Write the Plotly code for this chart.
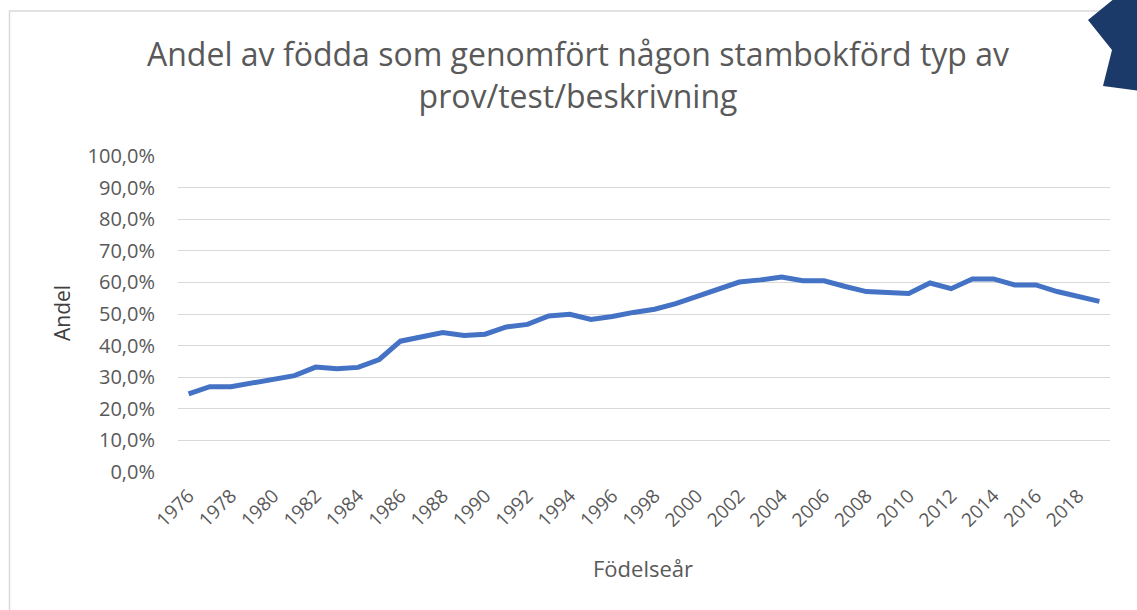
import plotly.graph_objects as go

years = list(range(1976, 2020))
andel = [0.247, 0.270, 0.270, 0.281, 0.294, 0.305, 0.332, 0.327, 0.331, 0.356,
         0.414, 0.428, 0.441, 0.432, 0.436, 0.459, 0.467, 0.494, 0.499, 0.483,
         0.492, 0.505, 0.515, 0.533, 0.557, 0.580, 0.601, 0.608, 0.617, 0.605,
         0.605, 0.587, 0.571, 0.568, 0.565, 0.598, 0.580, 0.611, 0.611, 0.592,
         0.592, 0.571, 0.555, 0.540]
x_tick_vals = list(range(1976, 2019, 2))
y_tick_vals = [i / 10 for i in range(11)]

title_text = "Andel av födda som genomfört någon stambokförd typ av<br>prov/test/beskrivning"
x_title = "Födelseår"
y_title = "Andel"

W, H = 1137, 610
L, R, T, B = 178, 27, 156, 138
PW, PH = W - L - R, H - T - B

def px(x):
    return (x - L) / PW

def py(y):
    return (H - B - y) / PH

FONT = "Open Sans"
GREY = "#595959"

fig = go.Figure()
fig.add_trace(go.Scatter(
    x=years, y=andel, mode="lines",
    line=dict(color="#4472C4", width=5, shape="linear"),
    hoverinfo="skip", showlegend=False,
))

star = [(1115, -2), (1088, 20), (1112, 50), (1103, 86), (1140, 91), (1140, -2)]
path = "M " + " L ".join(f"{px(a):.5f},{py(b):.5f}" for a, b in star) + " Z"

fig.update_layout(
    width=W, height=H,
    margin=dict(l=L, r=R, t=T, b=B, autoexpand=False),
    paper_bgcolor="white", plot_bgcolor="white",
    separators=", ",
    font=dict(family=FONT, color=GREY),
    title=dict(text=title_text, x=px(578), xref="paper", xanchor="center",
               y=1 - 66 / H, yref="container", yanchor="middle",
               font=dict(size=32, color=GREY, family=FONT)),
    xaxis=dict(
        range=[1975.5, 2019.5], tickvals=x_tick_vals, ticktext=[str(v) for v in x_tick_vals],
        tickangle=-45, showgrid=False, zeroline=False, showline=False,
        ticks="", ticklabelstandoff=8,
        tickfont=dict(size=19, color=GREY, family=FONT),
    ),
    yaxis=dict(
        range=[0, 1], tickvals=y_tick_vals, tickformat=".1%",
        showgrid=True, gridcolor="#D9D9D9", gridwidth=1.3, zeroline=False,
        showline=False, ticks="", ticklabelstandoff=22,
        tickfont=dict(size=20, color=GREY, family=FONT),
    ),
    annotations=[
        dict(text=x_title, xref="paper", yref="paper", x=px(642.5), y=py(568),
             xanchor="center", yanchor="middle", showarrow=False,
             font=dict(size=22, color=GREY, family=FONT)),
        dict(text=y_title, xref="paper", yref="paper", x=px(62), y=py(313),
             xanchor="center", yanchor="middle", showarrow=False, textangle=-90,
             font=dict(size=21, color="#404040", family=FONT)),
    ],
    shapes=[
        dict(type="rect", xref="paper", yref="paper",
             x0=px(9.5), x1=px(1160), y0=py(11), y1=py(640),
             line=dict(color="#D9D9D9", width=1.5), fillcolor="rgba(0,0,0,0)", layer="below"),
        dict(type="path", xref="paper", yref="paper", path=path,
             fillcolor="#1B3A6A", line=dict(width=0), layer="above"),
    ],
)

fig.write_html("out.html", config={"displayModeBar": False},
               post_script="document.body.style.margin='0';")
